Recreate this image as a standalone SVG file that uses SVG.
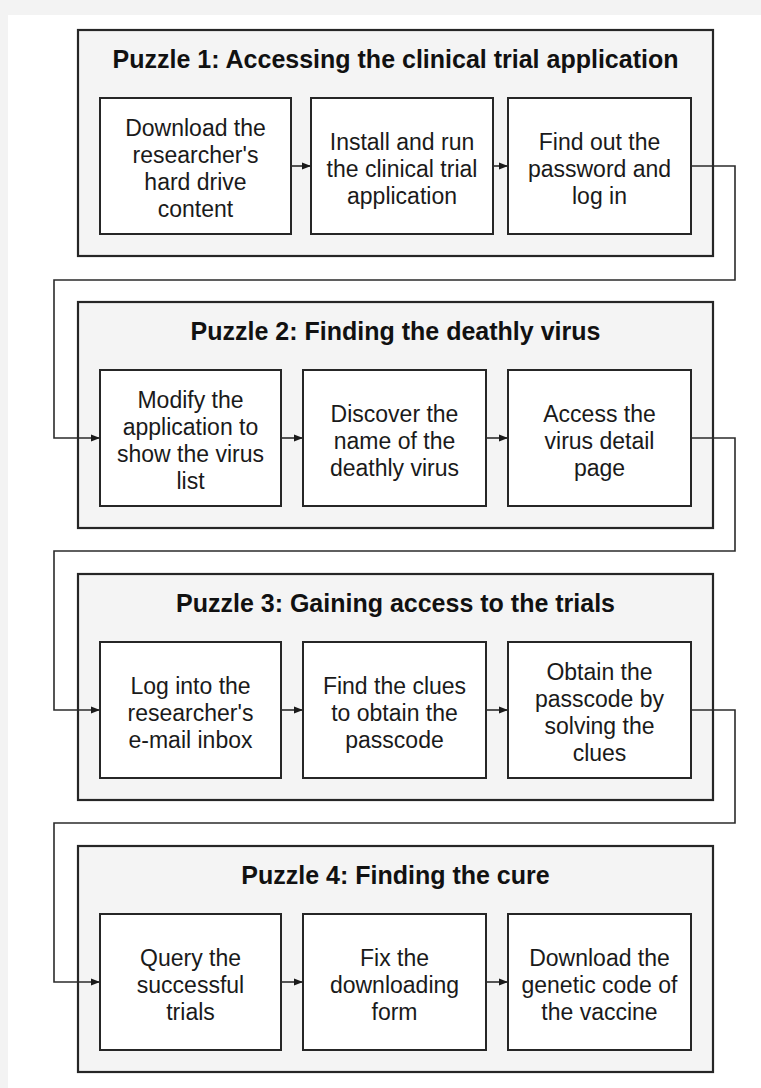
<svg xmlns="http://www.w3.org/2000/svg" width="761" height="1088" viewBox="0 0 761 1088">
  <style>
    .frame { fill: #f4f4f4; stroke: #262626; stroke-width: 2.2; }
    .box { fill: #ffffff; stroke: #262626; stroke-width: 2; }
    .title { font-family: "Liberation Sans", Arial, Helvetica, sans-serif; font-weight: bold; font-size: 25px; fill: #111; text-anchor: middle; }
    .label { font-family: "Liberation Sans", Arial, Helvetica, sans-serif; font-size: 23px; fill: #1a1a1a; text-anchor: middle; }
    .link { fill: none; stroke: #2b2b2b; stroke-width: 1.6; }
  </style>
  <defs>
    <marker id="arrow" markerUnits="userSpaceOnUse" markerWidth="10" markerHeight="8" refX="9" refY="4" orient="auto">
      <path d="M0,0.5 L9,4 L0,7.5 z" fill="#1a1a1a"/>
    </marker>
  </defs>

  <!-- page -->
  <rect x="0" y="0" width="761" height="1088" fill="#f3f3f3"/>
  <rect x="8" y="15" width="753" height="1073" fill="#ffffff"/>

  <!-- Puzzle 1 -->
  <g id="puzzle1">
    <rect class="frame" x="78" y="30" width="635" height="226"/>
    <text class="title" x="395.5" y="68">Puzzle 1: Accessing the clinical trial application</text>
    <g id="p1-download">
      <rect class="box" x="100" y="98" width="191" height="136"/>
      <text class="label" x="195.5" y="136">Download the</text>
      <text class="label" x="195.5" y="163">researcher's</text>
      <text class="label" x="195.5" y="190">hard drive</text>
      <text class="label" x="195.5" y="217">content</text>
    </g>
    <g id="p1-install">
      <rect class="box" x="311" y="98" width="182" height="136"/>
      <text class="label" x="402" y="150">Install and run</text>
      <text class="label" x="402" y="177">the clinical trial</text>
      <text class="label" x="402" y="204">application</text>
    </g>
    <g id="p1-password">
      <rect class="box" x="508" y="98" width="183" height="136"/>
      <text class="label" x="599.5" y="150">Find out the</text>
      <text class="label" x="599.5" y="177">password and</text>
      <text class="label" x="599.5" y="204">log in</text>
    </g>
  </g>

  <!-- Puzzle 2 -->
  <g id="puzzle2">
    <rect class="frame" x="78" y="302" width="635" height="226"/>
    <text class="title" x="395.5" y="340">Puzzle 2: Finding the deathly virus</text>
    <g id="p2-modify">
      <rect class="box" x="100" y="370" width="181" height="136"/>
      <text class="label" x="190.5" y="408">Modify the</text>
      <text class="label" x="190.5" y="435">application to</text>
      <text class="label" x="190.5" y="462">show the virus</text>
      <text class="label" x="190.5" y="489">list</text>
    </g>
    <g id="p2-discover">
      <rect class="box" x="303" y="370" width="183" height="136"/>
      <text class="label" x="394.5" y="422">Discover the</text>
      <text class="label" x="394.5" y="449">name of the</text>
      <text class="label" x="394.5" y="476">deathly virus</text>
    </g>
    <g id="p2-access">
      <rect class="box" x="508" y="370" width="183" height="136"/>
      <text class="label" x="599.5" y="422">Access the</text>
      <text class="label" x="599.5" y="449">virus detail</text>
      <text class="label" x="599.5" y="476">page</text>
    </g>
  </g>

  <!-- Puzzle 3 -->
  <g id="puzzle3">
    <rect class="frame" x="78" y="574" width="635" height="226"/>
    <text class="title" x="395.5" y="612">Puzzle 3: Gaining access to the trials</text>
    <g id="p3-login">
      <rect class="box" x="100" y="642" width="181" height="136"/>
      <text class="label" x="190.5" y="694">Log into the</text>
      <text class="label" x="190.5" y="721">researcher's</text>
      <text class="label" x="190.5" y="748">e-mail inbox</text>
    </g>
    <g id="p3-clues">
      <rect class="box" x="303" y="642" width="183" height="136"/>
      <text class="label" x="394.5" y="694">Find the clues</text>
      <text class="label" x="394.5" y="721">to obtain the</text>
      <text class="label" x="394.5" y="748">passcode</text>
    </g>
    <g id="p3-passcode">
      <rect class="box" x="508" y="642" width="183" height="136"/>
      <text class="label" x="599.5" y="680">Obtain the</text>
      <text class="label" x="599.5" y="707">passcode by</text>
      <text class="label" x="599.5" y="734">solving the</text>
      <text class="label" x="599.5" y="761">clues</text>
    </g>
  </g>

  <!-- Puzzle 4 -->
  <g id="puzzle4">
    <rect class="frame" x="78" y="846" width="635" height="226"/>
    <text class="title" x="395.5" y="884">Puzzle 4: Finding the cure</text>
    <g id="p4-query">
      <rect class="box" x="100" y="914" width="181" height="136"/>
      <text class="label" x="190.5" y="966">Query the</text>
      <text class="label" x="190.5" y="993">successful</text>
      <text class="label" x="190.5" y="1020">trials</text>
    </g>
    <g id="p4-fix">
      <rect class="box" x="303" y="914" width="183" height="136"/>
      <text class="label" x="394.5" y="966">Fix the</text>
      <text class="label" x="394.5" y="993">downloading</text>
      <text class="label" x="394.5" y="1020">form</text>
    </g>
    <g id="p4-vaccine">
      <rect class="box" x="508" y="914" width="183" height="136"/>
      <text class="label" x="599.5" y="966">Download the</text>
      <text class="label" x="599.5" y="993">genetic code of</text>
      <text class="label" x="599.5" y="1020">the vaccine</text>
    </g>
  </g>

  <!-- connectors -->
  <g id="connectors">
    <line class="link" x1="291" y1="166" x2="311" y2="166" marker-end="url(#arrow)"/>
    <line class="link" x1="493" y1="166" x2="508" y2="166" marker-end="url(#arrow)"/>
    <path class="link" d="M691,166 H735 V280 H54 V438 H100" marker-end="url(#arrow)"/>

    <line class="link" x1="281" y1="438" x2="303" y2="438" marker-end="url(#arrow)"/>
    <line class="link" x1="486" y1="438" x2="508" y2="438" marker-end="url(#arrow)"/>
    <path class="link" d="M691,438 H735 V551 H54 V710 H100" marker-end="url(#arrow)"/>

    <line class="link" x1="281" y1="710" x2="303" y2="710" marker-end="url(#arrow)"/>
    <line class="link" x1="486" y1="710" x2="508" y2="710" marker-end="url(#arrow)"/>
    <path class="link" d="M691,710 H735 V823 H54 V982 H100" marker-end="url(#arrow)"/>

    <line class="link" x1="281" y1="982" x2="303" y2="982" marker-end="url(#arrow)"/>
    <line class="link" x1="486" y1="982" x2="508" y2="982" marker-end="url(#arrow)"/>
  </g>
</svg>
